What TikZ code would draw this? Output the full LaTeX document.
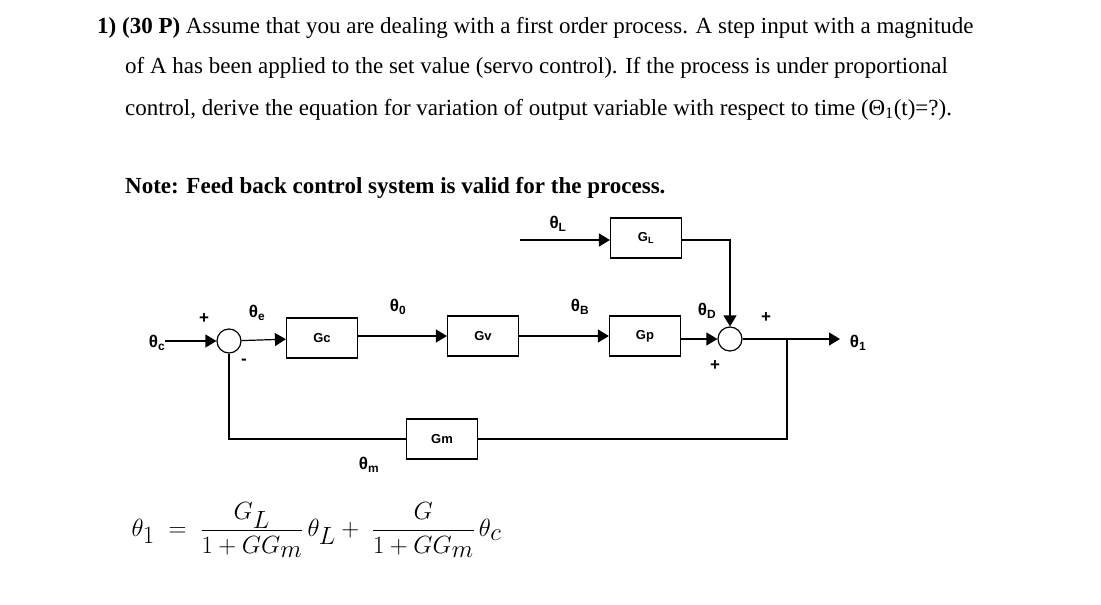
\documentclass[tikz,border=0pt]{standalone}
\usepackage{fontspec}
\setmainfont{Liberation Serif}
\newfontfamily\diagfont{Liberation Sans}
\usetikzlibrary{shapes.geometric, arrows.meta, positioning}
\tikzstyle{block} = [rectangle, minimum width=71pt, minimum height=40pt, draw=black, line width=1.2pt, font=\diagfont\bfseries\fontsize{13}{14}\selectfont]
\tikzstyle{summer} = [circle, minimum size=24pt, inner sep=0pt, draw=black, line width=1.2pt]
\tikzstyle{sig} = [font=\diagfont\bfseries\fontsize{17}{18}\selectfont]
\tikzstyle{arrow} = [line width=1.2pt,-{Triangle[length=11pt,width=13pt]}]
\tikzstyle{line} = [line width=1.2pt]

\begin{document}
\begin{tikzpicture}
[x=1pt, y=1pt, nodes = {align = left},]
\useasboundingbox (0,0) rectangle (1101,-605);

% question text
\begin{scope}[every node/.style={anchor=base west, inner sep=0pt, font=\fontsize{23}{26}\selectfont}]
\node (l1) at (97,-33) {\textbf{1) (30 P)} Assume that you are dealing with a first order process. A step input with a magnitude};
\node (l2) at (125,-73) {of A has been applied to the set value (servo control). If the process is under proportional};
\node (l3) at (125,-115) {control, derive the equation for variation of output variable with respect to time (Θ\textsubscript{1}(t)=?).};
\node (note) at (125,-193) {\textbf{Note: Feed back control system is valid for the process.}};
\end{scope}

% blocks
\node (sum1) [summer] at (229,-341) {};
\node (gc) [block] at (322,-338) {Gc};
\node (gv) [block] at (483,-336) {Gv};
\node (gp) [block] at (645,-336) {Gp};
\node (gl) [block] at (646,-238) {G\textsubscript{L}};
\node (sum2) [summer] at (730,-339) {};
\node (gm) [block] at (442,-439) {Gm};
\coordinate (in) at (165,-341);
\coordinate (out) at (840,-339);
\coordinate (ldin) at (520,-240);
\coordinate (branch) at (787,-339);

% signals
\node [sig] at (157,-343) {θ\textsubscript{c}};
\node [sig] at (257,-313) {θ\textsubscript{e}};
\node [sig] at (398,-307) {θ\textsubscript{0}};
\node [sig] at (580,-307) {θ\textsubscript{B}};
\node [sig] at (707,-311) {θ\textsubscript{D}};
\node [sig] at (558,-224) {θ\textsubscript{L}};
\node [sig] at (858,-343) {θ\textsubscript{1}};
\node [sig] at (369,-465) {θ\textsubscript{m}};
\node [sig] at (204,-319) {+};
\node [sig] at (244,-362) {-};
\node [sig] at (715,-366) {+};
\node [sig] at (766,-318) {+};

% connectors
\draw [arrow] (in) -- (sum1);
\draw [arrow] (sum1) -- (gc);
\draw [arrow] (gc.east |- 0,-336) -- (gv);
\draw [arrow] (gv) -- (gp);
\draw [arrow] (gp.east |- sum2) -- (sum2);
\draw [arrow] (ldin) -- (gl.west |- ldin);
\draw [arrow] (gl.east |- ldin) -| (sum2);
\draw [arrow] (sum2) -- (out);
\draw [line] (branch) |- (gm);
\draw [line] (gm) -| (sum1);

% result
\node (eq) [anchor=west, font=\fontsize{33}{38}\selectfont] at (128,-530)
{$\displaystyle\theta_1 \;=\; \frac{G_L}{1+GG_m}\,\theta_L + \;\frac{G}{1+GG_m}\,\theta_c$};
\end{tikzpicture}
\end{document}
